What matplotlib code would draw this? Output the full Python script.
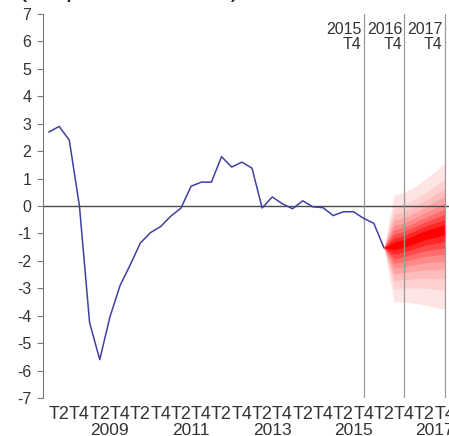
import numpy as np
import matplotlib
matplotlib.use("Agg")
import matplotlib.pyplot as plt

plt.rcParams["font.family"] = ["Liberation Sans", "DejaVu Sans"]

# observed series, quarterly from 2008 T1 to 2016 T2
observed = [2.7, 2.9, 2.4, 0.0, -4.25, -5.6, -4.05, -2.9, -2.15, -1.35,
            -0.97, -0.75, -0.37, -0.08, 0.72, 0.87, 0.87, 1.8, 1.42, 1.6,
            1.38, -0.07, 0.33, 0.08, -0.1, 0.19, -0.03, -0.06, -0.35, -0.21,
            -0.21, -0.45, -0.63, -1.52]

# fan chart, 2016 T2 (anchor) to 2017 T4
fan_central = [-1.52, -1.45, -1.35, -1.2, -1.05, -0.95, -0.85]
fan_upper = [-1.52, 0.4, 0.5, 0.7, 0.95, 1.25, 1.55]
fan_lower = [-1.52, -3.5, -3.5, -3.55, -3.6, -3.7, -3.75]
band_levels = [1.0, 0.76, 0.62, 0.5, 0.4, 0.31, 0.23, 0.15, 0.07]
band_colors = ["#ffe4e4", "#ffd0d0", "#ffbcbc", "#ffa4a4", "#ff8a8a",
               "#ff6c6c", "#ff4a4a", "#ff2626", "#ff0000"]

tick_labels = ["T2", "T4"] * 10
year_labels = ["2009", "2011", "2013", "2015", "2017"]
marker_labels = ["2015\nT4", "2016\nT4", "2017\nT4"]

# positions in quarters since 2008 T1
q_obs = np.arange(len(observed))
q_fan = np.arange(len(observed) - 1, len(observed) - 1 + len(fan_central))
q_ticks = np.arange(1, 1 + 2 * len(tick_labels), 2)
q_years = [6, 14, 22, 30, 38]
q_markers = [31, 35, 39]

fig = plt.figure(figsize=(4.49, 4.36), dpi=100)
ax = fig.add_axes([43 / 449, 38 / 436, 406 / 449, 384 / 436])

c = np.array(fan_central)
up = np.array(fan_upper)
lo = np.array(fan_lower)
for f, col in zip(band_levels, band_colors):
    ax.fill_between(q_fan, c - f * (c - lo), c + f * (up - c),
                    color=col, lw=0, zorder=1)

ax.axhline(0, color="#4a4a4a", lw=1.0, zorder=2)
for q, lab in zip(q_markers, marker_labels):
    ax.axvline(q, color="#9a9a9a", lw=0.9, zorder=2)
    ax.annotate(lab, xy=(q, 1), xycoords=ax.get_xaxis_transform(),
                xytext=(-1.5, -6), textcoords="offset points",
                ha="right", va="top", fontsize=11.5, color="#333333",
                linespacing=0.95)

ax.plot(q_obs, observed, color="#4040a4", lw=1.1, zorder=3)

ax.set_yticks(range(-7, 8))
ax.set_yticklabels([str(v) for v in range(-7, 8)])
ax.tick_params(axis="y", direction="out", length=4.5, width=0.8,
               color="#777777", labelsize=11.5, labelcolor="#333333", pad=4)

ax.set_xticks(q_ticks)
ax.set_xticklabels(tick_labels)
ax.set_xticks(q_years, minor=True)
ax.set_xticklabels(year_labels, minor=True)
ax.tick_params(axis="x", which="major", length=0, labelsize=13,
               labelcolor="#333333", pad=6)
ax.tick_params(axis="x", which="minor", length=0, labelsize=12.5,
               labelcolor="#333333", pad=18)

ax.set_xlim(-0.59, 39.41)
ax.set_ylim(-7, 7)

for s in ["top", "right", "bottom"]:
    ax.spines[s].set_visible(False)
ax.spines["left"].set_color("#777777")
ax.spines["left"].set_linewidth(0.8)

fig.text(18 / 449, 1 + 4 / 436, "(en points de PIB)", fontsize=20,
         ha="left", va="baseline", color="#222222")

fig.savefig("out.png", dpi=100)
